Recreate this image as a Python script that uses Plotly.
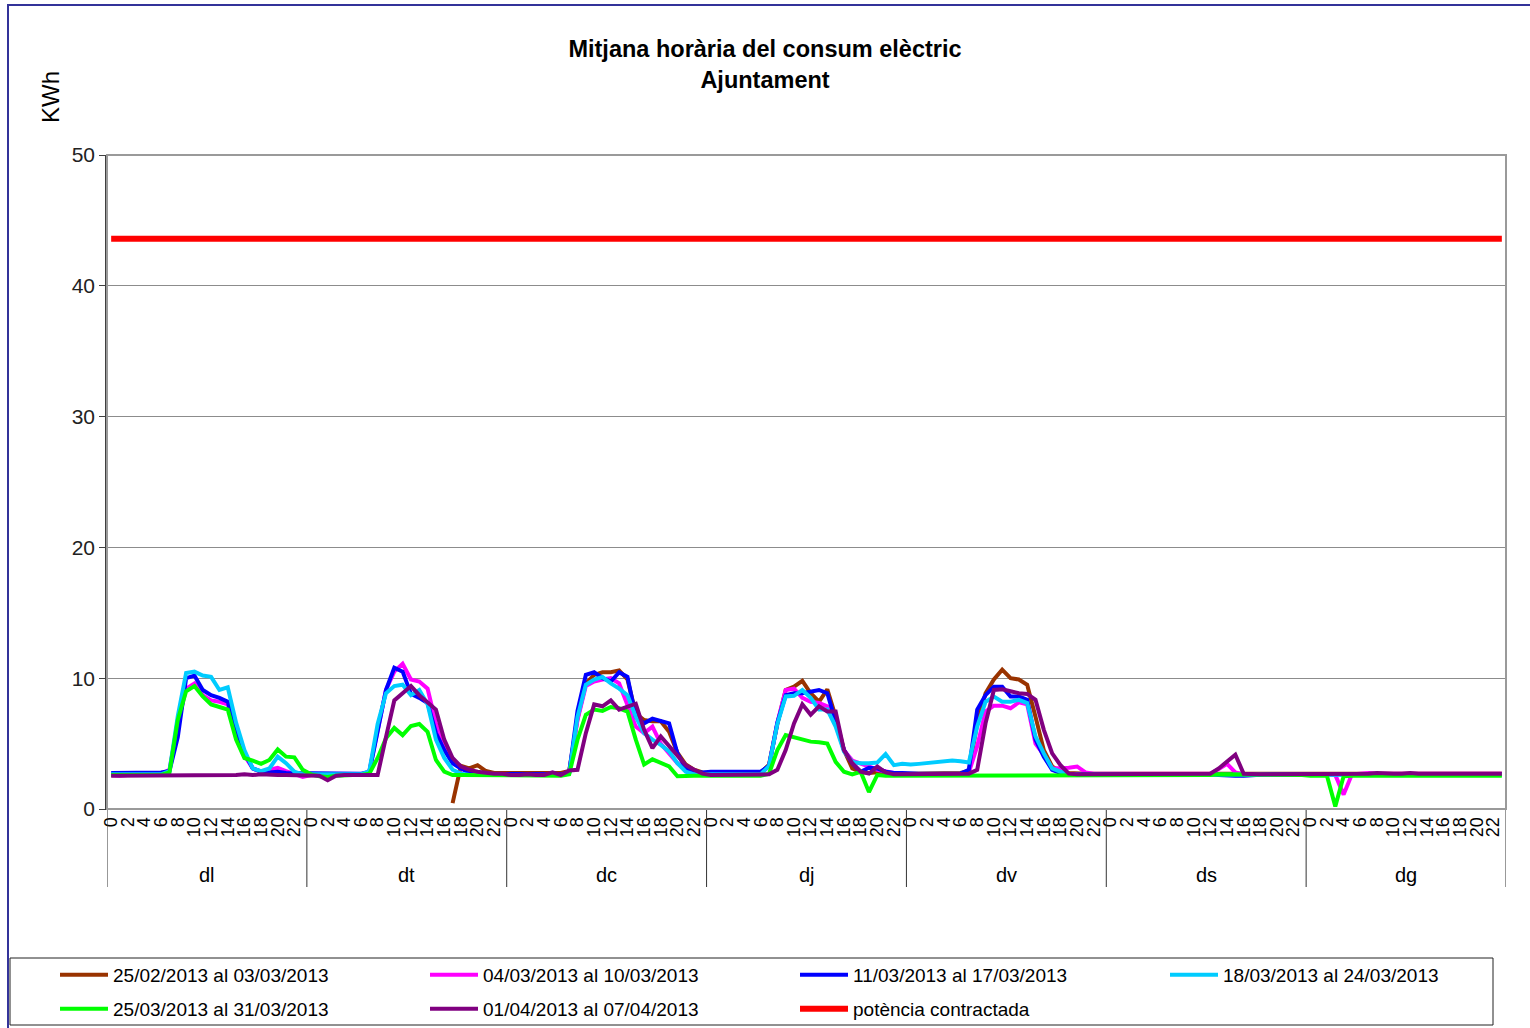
import plotly.graph_objects as go

# Categories
DAYS = ['dl', 'dt', 'dc', 'dj', 'dv', 'ds', 'dg']
HOURS = [0, 1, 2, 3, 4, 5, 6, 7, 8, 9, 10, 11, 12, 13, 14, 15, 16, 17, 18, 19, 20, 21, 22, 23]
TICK_HOURS = [0, 2, 4, 6, 8, 10, 12, 14, 16, 18, 20, 22]

# Weekly series, KWh per hour (7 days x 24 hours, one row per day)
setmana_2502 = [
    None, None, None, None, None, None, None, None, None, None, None, None, None, None, None, None, None, None, None, None, None, None, None, None,
    None, None, None, None, None, None, None, None, None, None, None, None, None, None, None, None, None, 0.45, 3.3, 3.1, 3.35, 2.9, 2.75, 2.75,
    2.75, 2.8, 2.75, 2.75, 2.8, 2.75, 2.75, 2.9, 6.9, 9.6, 10.25, 10.45, 10.45, 10.6, 9.9, 7.3, 6.8, 6.7, 6.7, 5.9, 4.3, 3.4, 3.0, 2.8,
    2.75, 2.7, 2.75, 2.7, 2.75, 2.7, 2.75, 3.4, 6.5, 9.1, 9.35, 9.8, 8.85, 8.2, 9.15, 7.05, 4.5, 3.1, 2.85, 2.75, 2.8, 2.75, 2.7, 2.7,
    2.7, 2.7, 2.7, 2.7, 2.7, 2.7, 2.75, 2.9, 6.55, 8.85, 9.9, 10.65, 10.0, 9.9, 9.5, 7.05, 4.5, 3.25, 2.85, 2.75, 2.7, 2.7, 2.7, 2.7,
    2.7, 2.7, 2.7, 2.75, 2.7, 2.7, 2.7, 2.75, 2.7, 2.7, 2.7, 2.7, 2.75, 2.75, 2.75, 2.7, 2.7, 2.7, 2.7, 2.7, 2.7, 2.7, 2.7, 2.7,
    2.7, 2.7, 2.7, 2.7, 2.7, 2.7, 2.75, 2.7, 2.7, 2.7, 2.7, 2.75, 2.7, 2.7, 2.7, 2.7, 2.7, 2.7, 2.7, 2.7, 2.7, 2.7, 2.7, 2.7,
]
setmana_0403 = [
    2.6, 2.55, 2.6, 2.6, 2.65, 2.6, 2.65, 3.0, 6.5, 9.2, 9.6, 8.7, 8.3, 8.2, 8.0, 5.8, 4.1, 3.1, 2.85, 3.0, 3.15, 2.9, 2.7, 2.45,
    2.6, 2.6, 2.65, 2.6, 2.6, 2.6, 2.65, 2.9, 6.0, 9.1, 10.5, 11.1, 9.9, 9.75, 9.2, 6.55, 4.8, 3.6, 3.1, 2.85, 2.7, 2.7, 2.7, 2.65,
    2.65, 2.65, 2.6, 2.65, 2.65, 2.65, 2.6, 2.8, 6.8, 9.4, 9.75, 9.9, 10.0, 9.6, 8.0, 6.3, 5.8, 6.3, 5.0, 4.25, 3.5, 3.0, 2.75, 2.7,
    2.65, 2.65, 2.65, 2.65, 2.65, 2.65, 2.65, 3.3, 6.6, 9.1, 9.2, 8.5, 8.2, 8.1, 7.85, 6.55, 4.5, 3.7, 3.5, 3.25, 3.0, 2.85, 2.75, 2.7,
    2.65, 2.65, 2.65, 2.65, 2.65, 2.65, 2.65, 2.8, 4.8, 7.45, 7.9, 7.9, 7.7, 8.15, 8.0, 5.0, 4.15, 3.1, 3.1, 3.15, 3.25, 2.8, 2.7, 2.7,
    2.65, 2.65, 2.65, 2.65, 2.65, 2.65, 2.65, 2.7, 2.65, 2.65, 2.65, 2.65, 2.7, 3.05, 3.45, 2.8, 2.65, 2.65, 2.65, 2.65, 2.65, 2.65, 2.7, 2.7,
    2.7, 2.7, 2.65, 2.6, 1.1, 2.65, 2.7, 2.75, 2.7, 2.7, 2.75, 2.7, 2.7, 2.7, 2.7, 2.75, 2.7, 2.7, 2.7, 2.7, 2.7, 2.7, 2.7, 2.7,
]
setmana_1103 = [
    2.75, 2.75, 2.75, 2.8, 2.75, 2.75, 2.8, 2.9, 5.5, 10.0, 10.2, 9.1, 8.7, 8.5, 8.2, 5.8, 4.3, 3.1, 2.85, 2.8, 2.85, 2.75, 2.75, 2.7,
    2.7, 2.7, 2.7, 2.7, 2.7, 2.7, 2.7, 2.8, 6.0, 9.1, 10.8, 10.5, 8.8, 8.5, 8.1, 5.8, 4.5, 3.5, 3.1, 2.8, 2.7, 2.7, 2.7, 2.7,
    2.65, 2.65, 2.65, 2.65, 2.65, 2.65, 2.65, 2.75, 7.5, 10.25, 10.45, 10.0, 9.75, 10.45, 10.1, 7.05, 6.55, 6.9, 6.7, 6.55, 4.25, 3.1, 2.85, 2.8,
    2.85, 2.85, 2.85, 2.9, 2.85, 2.85, 2.85, 3.3, 6.6, 8.7, 8.85, 8.85, 9.0, 9.1, 8.85, 6.55, 4.5, 3.5, 2.85, 3.15, 3.1, 2.85, 2.75, 2.75,
    2.7, 2.7, 2.7, 2.7, 2.7, 2.7, 2.7, 3.0, 7.6, 8.7, 9.35, 9.35, 8.6, 8.6, 8.35, 5.3, 4.0, 3.0, 2.75, 2.7, 2.7, 2.7, 2.7, 2.7,
    2.65, 2.65, 2.65, 2.65, 2.65, 2.65, 2.65, 2.65, 2.65, 2.65, 2.65, 2.65, 2.65, 2.6, 2.55, 2.55, 2.55, 2.6, 2.65, 2.65, 2.65, 2.65, 2.65, 2.65,
    2.65, 2.65, 2.65, 2.65, 2.65, 2.65, 2.65, 2.65, 2.65, 2.65, 2.65, 2.65, 2.65, 2.65, 2.65, 2.65, 2.65, 2.65, 2.65, 2.65, 2.65, 2.65, 2.65, 2.65,
]
setmana_1803 = [
    2.65, 2.65, 2.65, 2.65, 2.65, 2.65, 2.65, 2.9, 7.1, 10.4, 10.5, 10.2, 10.1, 9.1, 9.3, 6.6, 4.5, 3.1, 2.9, 3.1, 4.0, 3.5, 2.85, 2.65,
    2.65, 2.65, 2.65, 2.65, 2.65, 2.65, 2.65, 2.9, 6.5, 8.85, 9.4, 9.5, 8.7, 9.1, 8.0, 5.3, 3.9, 3.0, 2.7, 2.6, 2.6, 2.6, 2.6, 2.6,
    2.6, 2.6, 2.6, 2.6, 2.6, 2.6, 2.6, 2.7, 7.05, 9.5, 9.9, 10.1, 9.6, 9.2, 8.7, 7.05, 5.8, 5.3, 4.9, 4.4, 3.5, 2.85, 2.65, 2.65,
    2.65, 2.65, 2.65, 2.65, 2.65, 2.65, 2.65, 3.3, 6.5, 8.6, 8.65, 9.1, 8.5, 7.6, 7.6, 6.3, 4.4, 3.6, 3.5, 3.5, 3.55, 4.2, 3.35, 3.45,
    3.4, 3.45, 3.5, 3.55, 3.6, 3.7, 3.65, 3.55, 6.3, 8.2, 8.6, 8.2, 8.2, 8.35, 8.1, 5.55, 4.25, 3.1, 2.85, 2.7, 2.65, 2.65, 2.65, 2.65,
    2.6, 2.6, 2.6, 2.6, 2.6, 2.6, 2.6, 2.6, 2.6, 2.6, 2.6, 2.6, 2.6, 2.6, 2.6, 2.6, 2.6, 2.6, 2.6, 2.6, 2.6, 2.6, 2.6, 2.6,
    2.6, 2.6, 2.6, 2.6, 2.6, 2.6, 2.6, 2.6, 2.6, 2.6, 2.6, 2.6, 2.6, 2.6, 2.6, 2.6, 2.6, 2.6, 2.6, 2.6, 2.6, 2.6, 2.6, 2.6,
]
setmana_2503 = [
    2.6, 2.6, 2.6, 2.6, 2.6, 2.6, 2.6, 2.8, 6.8, 9.0, 9.4, 8.6, 8.0, 7.8, 7.6, 5.3, 3.9, 3.7, 3.45, 3.75, 4.55, 4.0, 3.95, 3.0,
    2.65, 2.5, 2.45, 2.55, 2.6, 2.6, 2.6, 2.7, 3.9, 5.4, 6.2, 5.65, 6.35, 6.5, 5.9, 3.75, 2.85, 2.6, 2.6, 2.6, 2.6, 2.6, 2.6, 2.6,
    2.55, 2.55, 2.55, 2.55, 2.55, 2.55, 2.55, 2.65, 5.3, 7.2, 7.6, 7.5, 7.8, 7.7, 7.45, 5.3, 3.4, 3.8, 3.55, 3.25, 2.5, 2.55, 2.55, 2.55,
    2.55, 2.55, 2.55, 2.55, 2.55, 2.55, 2.55, 2.7, 4.5, 5.65, 5.5, 5.3, 5.15, 5.1, 5.0, 3.6, 2.85, 2.65, 2.85, 1.3, 2.6, 2.55, 2.55, 2.55,
    2.6, 2.6, 2.6, 2.6, 2.6, 2.6, 2.6, 2.6, 2.6, 2.6, 2.6, 2.6, 2.6, 2.6, 2.6, 2.6, 2.6, 2.6, 2.6, 2.6, 2.6, 2.6, 2.6, 2.6,
    2.6, 2.6, 2.6, 2.6, 2.6, 2.6, 2.6, 2.6, 2.6, 2.6, 2.6, 2.6, 2.6, 2.65, 2.65, 2.6, 2.6, 2.6, 2.6, 2.6, 2.6, 2.6, 2.6, 2.6,
    2.55, 2.55, 2.55, 0.2, 2.5, 2.55, 2.55, 2.55, 2.55, 2.55, 2.55, 2.55, 2.55, 2.55, 2.55, 2.55, 2.55, 2.55, 2.55, 2.55, 2.55, 2.55, 2.55, 2.55,
]
setmana_0104 = [
    2.55, 2.55, 2.6, 2.55, 2.55, 2.6, 2.6, 2.55, 2.6, 2.6, 2.55, 2.6, 2.6, 2.6, 2.6, 2.6, 2.65, 2.6, 2.65, 2.6, 2.6, 2.6, 2.6, 2.6,
    2.6, 2.55, 2.2, 2.55, 2.6, 2.6, 2.6, 2.6, 2.6, 5.5, 8.3, 8.85, 9.4, 8.7, 8.1, 7.6, 5.3, 3.9, 3.25, 3.0, 2.85, 2.75, 2.7, 2.7,
    2.6, 2.6, 2.65, 2.6, 2.6, 2.8, 2.6, 2.95, 3.0, 5.8, 8.0, 7.85, 8.3, 7.6, 7.85, 8.05, 6.05, 4.65, 5.55, 4.8, 4.15, 3.35, 3.0, 2.7,
    2.6, 2.6, 2.6, 2.6, 2.6, 2.6, 2.6, 2.65, 3.0, 4.5, 6.55, 8.0, 7.2, 7.85, 7.45, 7.45, 4.5, 3.5, 2.85, 2.7, 3.25, 2.8, 2.65, 2.65,
    2.65, 2.65, 2.65, 2.65, 2.65, 2.65, 2.65, 2.7, 3.0, 6.55, 9.1, 9.15, 9.0, 8.85, 8.8, 8.35, 6.05, 4.25, 3.35, 2.7, 2.65, 2.65, 2.65, 2.65,
    2.65, 2.65, 2.65, 2.65, 2.65, 2.65, 2.65, 2.65, 2.65, 2.65, 2.65, 2.65, 2.7, 3.1, 3.6, 4.15, 2.7, 2.65, 2.65, 2.65, 2.65, 2.65, 2.65, 2.65,
    2.7, 2.7, 2.7, 2.7, 2.7, 2.7, 2.7, 2.7, 2.75, 2.7, 2.7, 2.7, 2.75, 2.7, 2.7, 2.7, 2.7, 2.7, 2.7, 2.7, 2.7, 2.7, 2.7, 2.7,
]
POTENCIA_CONTRACTADA = 43.6

SERIES = [
    ('25/02/2013 al 03/03/2013', setmana_2502, '#993300'),
    ('04/03/2013 al 10/03/2013', setmana_0403, '#ff00ff'),
    ('11/03/2013 al 17/03/2013', setmana_1103, '#0000ff'),
    ('18/03/2013 al 24/03/2013', setmana_1803, '#00ccff'),
    ('25/03/2013 al 31/03/2013', setmana_2503, '#00ff00'),
    ('01/04/2013 al 07/04/2013', setmana_0104, '#800080'),
]

# Figure geometry (pixels)
W, H = 1530, 1028
ML, MR, MT, MB = 107, 24, 155, 219
PW, PH = W - ML - MR, H - MT - MB
FONT = 'Liberation Sans, Arial, sans-serif'


def px_x(px):
    return (px - ML) / PW


def px_y(py):
    return (H - MB - py) / PH


n_h = len(HOURS)
x_pos = [d * n_h + h for d in range(len(DAYS)) for h in HOURS]
tick_vals = [d * n_h + h for d in range(len(DAYS)) for h in TICK_HOURS]
tick_text = [str(h) for d in range(len(DAYS)) for h in TICK_HOURS]

fig = go.Figure()

for i, (name, values, color) in enumerate(SERIES):
    fig.add_trace(go.Scatter(
        x=x_pos, y=values, mode='lines', name=name,
        line=dict(color=color, width=4),
        legend='legend' if i < 4 else 'legend2',
    ))

fig.add_trace(go.Scatter(
    x=x_pos, y=[POTENCIA_CONTRACTADA] * len(x_pos), mode='lines',
    name='potència contractada',
    line=dict(color='#ff0000', width=6),
    legend='legend2',
))

# day dividers below the axis and day names
shapes = []
for d in range(len(DAYS) + 1):
    shapes.append(dict(type='line', xref='x', yref='paper',
                       x0=d * n_h - 0.5, x1=d * n_h - 0.5, y0=0, y1=px_y(887),
                       line=dict(color='#333333', width=1)))
annotations = []
for d, day in enumerate(DAYS):
    annotations.append(dict(x=d * n_h + (n_h - 1) / 2, y=px_y(875), xref='x', yref='paper',
                            text=day, showarrow=False, yanchor='middle',
                            font=dict(size=20, color='black', family=FONT)))

# plot area border, legend box, outer frame
shapes.append(dict(type='rect', xref='paper', yref='paper', x0=0, x1=1, y0=0, y1=1,
                   line=dict(color='#9a9a9a', width=2), layer='above'))
shapes.append(dict(type='rect', xref='paper', yref='paper',
                   x0=px_x(10), x1=px_x(1493), y0=px_y(958), y1=px_y(1025),
                   line=dict(color='#222222', width=1)))
shapes.append(dict(type='rect', xref='paper', yref='paper',
                   x0=px_x(8), x1=px_x(1560), y0=px_y(5), y1=px_y(1060),
                   line=dict(color='#333399', width=2)))

annotations.append(dict(x=px_x(50), y=px_y(97), xref='paper', yref='paper',
                        text='KWh', textangle=-90, showarrow=False,
                        xanchor='center', yanchor='middle',
                        font=dict(size=24, color='black', family=FONT)))

legend_common = dict(
    orientation='h', xanchor='left', yanchor='top',
    x=px_x(55), entrywidth=307, entrywidthmode='pixels',
    itemwidth=48, bgcolor='rgba(0,0,0,0)', borderwidth=0,
    font=dict(size=19, color='black', family=FONT),
)

fig.update_layout(
    width=W, height=H,
    margin=dict(l=ML, r=MR, t=MT, b=MB, autoexpand=False),
    paper_bgcolor='white', plot_bgcolor='white',
    font=dict(family=FONT, color='black'),
    title=dict(text='<b>Mitjana horària del consum elèctric<br>Ajuntament</b>',
               x=0.5, xanchor='center', y=1 - 57 / H, yanchor='middle',
               font=dict(size=23.5, color='black', family=FONT)),
    showlegend=True,
    legend=dict(legend_common, y=px_y(956)),
    legend2=dict(legend_common, y=px_y(990)),
    shapes=shapes,
    annotations=annotations,
    xaxis=dict(
        range=[-0.5, len(x_pos) - 0.5],
        tickmode='array', tickvals=tick_vals, ticktext=tick_text,
        tickangle=-90, ticks='', showgrid=False, zeroline=False,
        showline=True, linecolor='#333333', linewidth=1,
        tickfont=dict(size=18, color='black', family=FONT),
    ),
    yaxis=dict(
        range=[0, 50], dtick=10, tick0=0,
        showgrid=True, gridcolor='#8c8c8c', gridwidth=1, zeroline=False,
        showline=True, linecolor='#404040', linewidth=1.5,
        ticks='outside', ticklen=6, tickcolor='#404040',
        tickfont=dict(size=21, color='#222222', family=FONT),
    ),
)

# drop the browser's default page margin so the chart sits at the window origin
fig.write_html('out.html', config={'displayModeBar': False},
               post_script="document.body.style.margin='0';")
